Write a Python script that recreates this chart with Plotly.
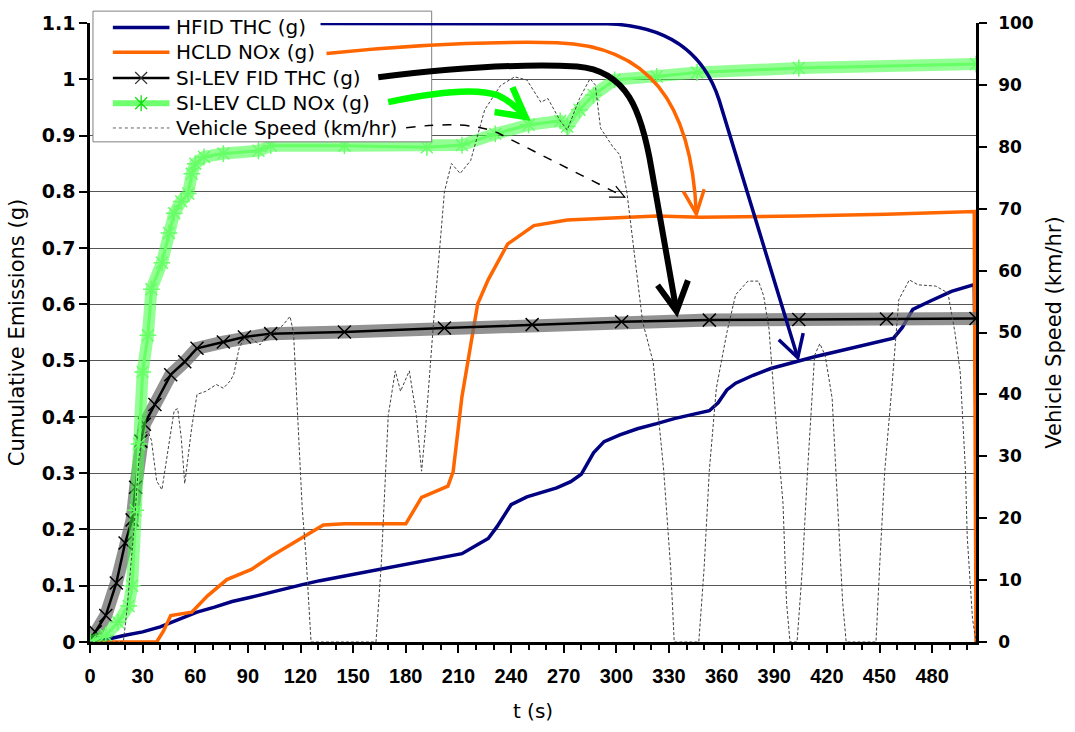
import plotly.graph_objects as go

# ---------------- data ----------------
t_hfid = [0, 10, 20, 30, 40, 50, 61, 71, 81, 91, 101, 111, 121, 131, 141, 151, 161, 171, 181, 191,
          201, 212, 222, 227, 232, 240, 249, 257, 266, 274, 280, 287, 293, 302, 312, 323, 333, 343,
          353, 358, 363, 368, 378, 388, 402, 413, 424, 434, 444, 458, 463, 469, 479, 491, 504, 505]
hfid_thc = [0, 0.005, 0.012, 0.018, 0.027, 0.04, 0.053, 0.062, 0.072, 0.079, 0.087, 0.095, 0.102, 0.109,
            0.115, 0.121, 0.127, 0.133, 0.139, 0.145, 0.151, 0.157, 0.175, 0.184, 0.205, 0.244, 0.258,
            0.266, 0.274, 0.285, 0.298, 0.336, 0.356, 0.368, 0.379, 0.388, 0.397, 0.404, 0.411, 0.425,
            0.448, 0.46, 0.474, 0.486, 0.498, 0.507, 0.515, 0.522, 0.53, 0.54, 0.559, 0.591, 0.606,
            0.623, 0.635, 0.38]

t_hcld = [0, 12, 38, 42, 46, 58, 67, 78, 92, 103, 126, 133, 145, 180, 189, 204, 207, 212, 217, 221,
          227, 238, 253, 272, 323, 348, 404, 454, 504, 505]
hcld_nox = [0, 0, 0, 0.02, 0.047, 0.053, 0.082, 0.111, 0.129, 0.152, 0.196, 0.208, 0.21, 0.21, 0.257,
            0.277, 0.303, 0.436, 0.528, 0.601, 0.644, 0.707, 0.74, 0.75, 0.757, 0.755, 0.757, 0.76,
            0.765, 0]

t_silev_thc = [0, 3, 9, 15, 20, 24, 26, 29, 31, 37, 46, 54, 61, 76, 88, 103, 145, 202, 252, 303, 353,
               404, 454, 505]
silev_thc = [0, 0.018, 0.047, 0.105, 0.176, 0.217, 0.275, 0.357, 0.387, 0.422, 0.475, 0.498, 0.522,
             0.533, 0.542, 0.548, 0.551, 0.558, 0.564, 0.569, 0.572, 0.573, 0.574, 0.575]

t_silev_nox = [0, 9, 16, 22, 24, 26, 28, 30, 33, 35, 41, 45, 48, 52, 56, 58, 60, 65, 76, 96, 103, 145,
               192, 212, 231, 250, 268, 272, 279, 287, 299, 323, 346, 404, 505]
silev_nox = [0, 0.012, 0.035, 0.064, 0.1, 0.234, 0.352, 0.48, 0.545, 0.627, 0.674, 0.727, 0.762, 0.783,
             0.797, 0.832, 0.85, 0.862, 0.868, 0.873, 0.882, 0.882, 0.879, 0.883, 0.903, 0.919, 0.926,
             0.916, 0.946, 0.972, 0.999, 1.005, 1.012, 1.02, 1.027]

t_speed = [0, 19, 21, 25, 28, 30, 33, 35, 38, 41, 45, 48, 50, 52, 54, 58, 61, 66, 72, 76, 80, 82, 85,
           88, 92, 97, 100, 105, 110, 114, 116, 118, 121, 123, 126, 163, 166, 170, 174, 177, 182, 186,
           189, 191, 196, 202, 206, 211, 217, 225, 234, 242, 249, 257, 261, 268, 272, 279, 285, 288,
           291, 298, 302, 306, 311, 315, 321, 327, 331, 333, 347, 350, 353, 357, 363, 368, 375, 381,
           384, 387, 391, 395, 397, 399, 403, 406, 409, 413, 416, 419, 423, 426, 429, 431, 448, 450,
           453, 457, 461, 467, 472, 482, 489, 493, 496, 499, 500, 503, 505]
speed = [0, 0, 5, 18, 30, 33.6, 34, 32.6, 26, 24.6, 32, 37.4, 37.7, 33, 25.6, 34.7, 40, 40.5, 41.6, 41,
         42.2, 43.3, 47.5, 49.1, 49, 48, 49.4, 50, 51.2, 52.6, 50, 38, 21.4, 14.4, 0, 0, 12.5, 36.6,
         43.8, 40.5, 43.8, 36.6, 27.6, 33.6, 52.3, 72.7, 77.3, 75.7, 77.8, 86, 89.9, 91.3, 90.8, 87.2,
         87.8, 84.2, 82.7, 87.8, 91, 90, 83, 80, 78.7, 72.7, 61, 51.7, 45.2, 27.7, 11.8, 0, 0, 11.8,
         27.7, 41, 50, 56.1, 58.3, 58.3, 55.9, 50.6, 35.7, 22.4, 6.4, 0, 0, 11.8, 27.7, 46.3, 48.2,
         46.3, 39.4, 22.4, 6.4, 0, 0, 11.8, 27.7, 41, 55.3, 58.5, 57.7, 57.5, 56.4, 50, 43.6, 27.7,
         17, 3.8, 0]

series_names = ["HFID THC (g)", "HCLD NOx (g)", "SI-LEV FID THC (g)", "SI-LEV CLD NOx (g)",
                "Vehicle Speed (km/hr)"]
x_ticks = list(range(0, 481, 30))

# ---------------- figure ----------------
fig = go.Figure()

fig.add_trace(go.Scatter(x=t_hfid, y=hfid_thc, name=series_names[0], mode="lines",
                         line=dict(color="#000080", width=3.5)))
fig.add_trace(go.Scatter(x=t_hcld, y=hcld_nox, name=series_names[1], mode="lines",
                         line=dict(color="#FF6600", width=3.5)))
# marker band (dense markers in original)
fig.add_trace(go.Scatter(x=t_silev_thc, y=silev_thc, mode="lines", showlegend=False, hoverinfo="skip",
                         line=dict(color="rgba(110,110,110,0.75)", width=13)))
fig.add_trace(go.Scatter(x=t_silev_thc, y=silev_thc, name=series_names[2], mode="lines+markers",
                         line=dict(color="#000000", width=2.5),
                         marker=dict(symbol="x-thin-open", size=13,
                                     line=dict(color="#202020", width=1.5))))
fig.add_trace(go.Scatter(x=t_silev_nox, y=silev_nox, mode="lines", showlegend=False, hoverinfo="skip",
                         line=dict(color="rgba(60,255,60,0.55)", width=12)))
fig.add_trace(go.Scatter(x=t_silev_nox, y=silev_nox, name=series_names[3], mode="lines+markers",
                         line=dict(color="#66FF66", width=3),
                         marker=dict(symbol="asterisk-open", size=14,
                                     line=dict(color="#22EE22", width=1.5))))
fig.add_trace(go.Scatter(x=t_speed, y=speed, name=series_names[4], mode="lines", yaxis="y2",
                         line=dict(color="#404040", width=1, dash="3px,2px")))

# ---------------- legend box (drawn manually to match the original layout) ----------------
PX_L, PX_W, PX_B, PX_H = 90, 892, 647, 625   # plot area in pixels


def px_x(px):
    return (px - PX_L) / PX_W


def px_y(py):
    return (PX_B - py) / PX_H


shapes = [dict(type="rect", xref="paper", yref="paper", x0=px_x(93), x1=px_x(434),
               y0=px_y(142), y1=px_y(10), fillcolor="white",
               line=dict(color="#808080", width=1), layer="above")]
annotations = []

legend_rows = [  # (row centre px, line colour, line width, dash, marker kind)
    (26.5, "#000080", 3.5, "solid", None),
    (51.5, "#FF6600", 3.5, "solid", None),
    (77.5, "#000000", 2.5, "solid", "x"),
    (103.0, "rgba(60,255,60,0.75)", 6, "solid", "asterisk"),
    (128.0, "#606060", 1, "dot", None),
]
for name, (py, col, w, dash, mk) in zip(series_names, legend_rows):
    yy = px_y(py)
    shapes.append(dict(type="line", xref="paper", yref="paper", x0=px_x(113), x1=px_x(170),
                       y0=yy, y1=yy, line=dict(color=col, width=w, dash=dash), layer="above"))
    cx, dx, dy = px_x(141.5), 6 / PX_W, 6 / PX_H
    if mk == "x":
        shapes.append(dict(type="path", xref="paper", yref="paper", layer="above",
                           path=f"M{cx-dx},{yy-dy} L{cx+dx},{yy+dy} M{cx-dx},{yy+dy} L{cx+dx},{yy-dy}",
                           line=dict(color="#303030", width=1.3)))
    if mk == "asterisk":
        ex, ey = 8 / PX_W, 8 / PX_H
        shapes.append(dict(type="path", xref="paper", yref="paper", layer="above",
                           path=(f"M{cx-dx},{yy-dy} L{cx+dx},{yy+dy} M{cx-dx},{yy+dy} L{cx+dx},{yy-dy} "
                                 f"M{cx},{yy-ey} L{cx},{yy+ey}"),
                           line=dict(color="#11DD11", width=1.3)))
    annotations.append(dict(xref="paper", yref="paper", x=px_x(175), y=yy, text=name,
                            xanchor="left", yanchor="middle", showarrow=False,
                            font=dict(family="DejaVu Sans", size=20, color="black")))

# ---------------- annotation arrows (curved call-outs) ----------------
arrows = [
    ("#000080", 3.5, "solid",
     "M131.4,1.099 L294.6,1.0986 C334.3,1.095 351.3,1.0335 358.6,0.963 L403.4,0.5053",
     "M392.6,0.537 L403.4,0.5053 L406.5,0.549"),
    ("#FF6600", 3.5, "solid",
     "M134.8,1.0458 Q204,1.0687 266.3,1.0651 C317.3,1.0599 342.8,0.963 345.6,0.7606",
     "M338.2,0.801 L345.6,0.7606 L350.1,0.8046"),
    ("#000000", 6, "solid",
     "M164.3,1.0035 Q232.3,1.03 277.6,1.0229 C306,1.0158 314.4,0.9454 320.1,0.8398 L334.3,0.588",
     "M323.5,0.6338 L334.3,0.588 L340.8,0.6426"),
    ("#00FF00", 6.5, "solid",
     "M170,0.9595 Q215.3,0.9894 232.3,0.9718 Q240.8,0.9595 248.2,0.9331",
     "M240.8,0.9859 L248.2,0.9331 L230.6,0.9419"),
    ("#000000", 1.5, "dash",
     "M180.2,0.9137 Q215.3,0.9278 232.3,0.9049 L304.8,0.7905",
     "M295.8,0.7905 L304.8,0.7905 L299.7,0.81"),
]
for color, width, dash, body, head in arrows:
    shapes.append(dict(type="path", xref="x", yref="y", path=body, layer="above",
                       line=dict(color=color, width=width, dash=dash)))
    shapes.append(dict(type="path", xref="x", yref="y", path=head, layer="above",
                       line=dict(color=color, width=width if width > 2 else 1.2)))

tick_bold = dict(family="DejaVu Sans", size=19, color="black", weight="bold")

fig.update_layout(
    width=1075, height=732,
    margin=dict(l=90, r=93, t=22, b=85),
    paper_bgcolor="white", plot_bgcolor="white",
    shapes=shapes,
    annotations=annotations,
    showlegend=False,
    xaxis=dict(range=[0, 505], tickmode="array", tickvals=x_ticks,
               ticks="outside", ticklen=8, tickwidth=2, tickcolor="black",
               minor=dict(dtick=10, tick0=0, ticks="outside", ticklen=5, tickwidth=1.5,
                          tickcolor="black", showgrid=False),
               showline=True, linecolor="black", linewidth=2.5,
               showgrid=False, zeroline=False, ticklabelstandoff=6,
               tickfont=dict(family="Liberation Sans Narrow, Liberation Sans, Arial", size=20,
                             color="black", weight="bold"),
               title=dict(text="t (s)", standoff=19,
                          font=dict(family="DejaVu Sans", size=20, color="black"))),
    yaxis=dict(range=[0, 1.1], dtick=0.1, tick0=0,
               ticks="outside", ticklen=8, tickwidth=2, tickcolor="black",
               showline=True, linecolor="black", linewidth=2.5,
               showgrid=True, gridcolor="#555555", gridwidth=1, zeroline=False,
               tickfont=tick_bold,
               title=dict(text="Cumulative Emissions (g)", standoff=12,
                          font=dict(family="DejaVu Sans", size=21, color="black"))),
    yaxis2=dict(range=[0, 100], dtick=10, tick0=0, overlaying="y", side="right",
                ticks="outside", ticklen=8, tickwidth=2, tickcolor="black",
                showline=True, linecolor="black", linewidth=2.5,
                showgrid=False, zeroline=False, ticklabelstandoff=8,
                tickfont=dict(family="DejaVu Sans", size=17, color="black", weight="bold"),
                title=dict(text="Vehicle Speed (km/hr)", standoff=14,
                           font=dict(family="DejaVu Sans", size=21, color="black"))),
)

fig.write_html("out.html")
